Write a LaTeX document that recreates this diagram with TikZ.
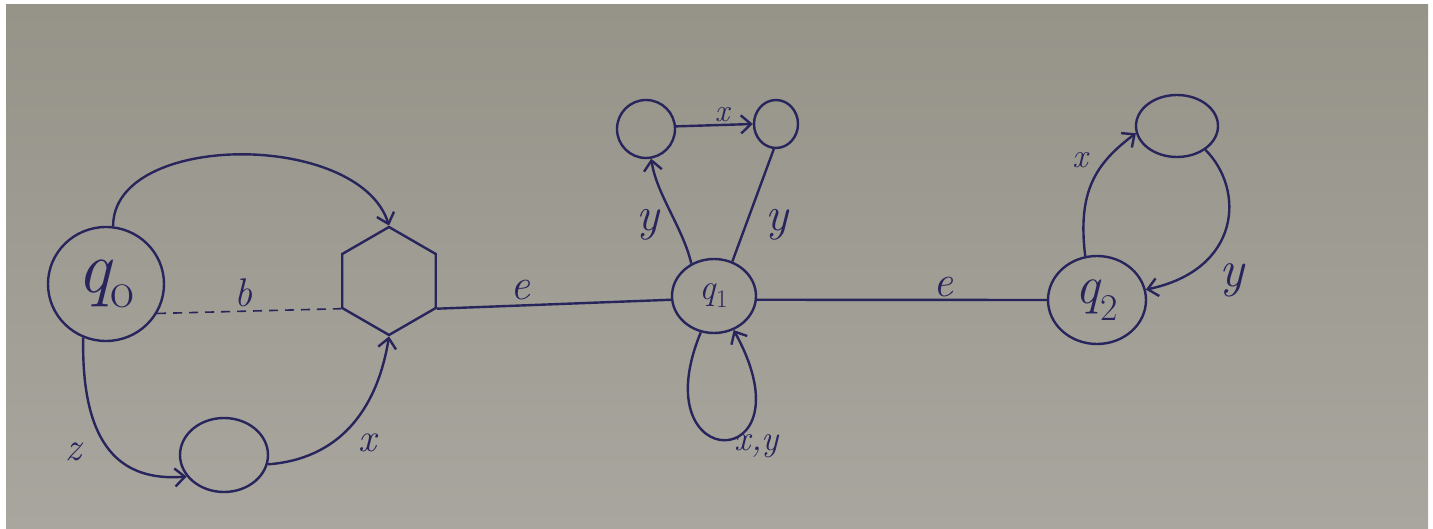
\documentclass[tikz,border=0pt]{standalone}
\usetikzlibrary{shapes.geometric,arrows.meta}
\definecolor{paper}{RGB}{150,147,137}
\definecolor{paperb}{RGB}{168,166,158}
\definecolor{ink}{RGB}{40,36,92}
\begin{document}
\begin{tikzpicture}[x=1pt,y=1pt,line width=2.4pt,
  state/.style={draw=ink,ellipse,inner sep=0pt,line width=2.4pt,text=ink},
  edge/.style={draw=ink,line width=2.4pt},
  arr/.style={edge,-{Straight Barb[length=10pt,width=18pt]}},
  lab/.style={text=ink,inner sep=0pt},
  fs/.style={font=\fontsize{#1}{#1}\selectfont\itshape}]
\fill[white] (0,0) rectangle (1433,-529);
\shade[top color=paper,bottom color=paperb] (6,-5) rectangle (1428,-529);
\useasboundingbox (0,0) rectangle (1433,-529);
% nodes
\node[state,minimum width=116,minimum height=114,fs=74] (q0) at (106,-284) {q\textsubscript{\upshape o}};
\node[state,minimum width=88,minimum height=74] (s) at (224,-455) {};
\node[draw=ink,regular polygon,regular polygon sides=6,regular polygon rotate=30,minimum size=108,inner sep=0pt] (hex) at (389,-281) {};
\node[state,minimum width=84,minimum height=74,fs=36] (q1) at (714,-296) {q\textsubscript{\upshape 1}};
\node[state,minimum width=58,minimum height=58] (tl) at (646,-129) {};
\node[state,minimum width=44,minimum height=48] (tr) at (776,-124) {};
\node[state,minimum width=98,minimum height=88,fs=54] (q2) at (1097,-300) {q\textsubscript{\upshape 2}};
\node[state,minimum width=82,minimum height=62] (t2) at (1177,-126) {};
% edges
\draw[arr] (q0.83) .. controls +(0,95) and +(-30,95) .. (hex.90);
\draw[edge,dashed,dash pattern=on 9pt off 7pt,line width=1.6pt] (q0.-30) -- (hex.-150);
\draw[arr] (q0.-113) .. controls +(-2,-110) and +(-65,-5) .. (s.-150);
\draw[arr] (s.-12) .. controls +(70,5) and +(-12,-75) .. (hex.-90);
\draw[edge] (hex.-30) -- (q1.185);
\draw[arr] (q1.125) .. controls +(-8,35) and +(5,-35) .. (tl.-80);
\draw[edge] (q1.62) -- (tr.-95);
\draw[arr] (tl.5) -- (tr.180);
\draw[arr] (q1.-110) .. controls +(-60,-145) and +(80,-145) .. (q1.-60);
\draw[edge] (q1.-5) -- (q2.180);
\draw[arr] (q2.105) .. controls +(-8,65) and +(-40,-30) .. (t2.190);
\draw[arr] (t2.-40) .. controls +(40,-40) and +(95,20) .. (q2.12);
% labels
\node[lab,fs=40] (lb) at (243,-293) {b};
\node[lab,fs=40] (lz) at (73,-452) {z};
\node[lab,fs=40] (lx1) at (367,-443) {x};
\node[lab,fs=44] (le1) at (520,-290) {e};
\node[lab,fs=32] (lx2) at (722,-115) {x};
\node[lab,fs=48] (ly1) at (648,-225) {y};
\node[lab,fs=48] (ly2) at (777,-225) {y};
\node[lab,fs=36] (lxy) at (757,-446) {x,y};
\node[lab,fs=44] (le2) at (943,-287) {e};
\node[lab,fs=34] (lx3) at (1080,-160) {x};
\node[lab,fs=52] (ly3) at (1232,-280) {y};
\end{tikzpicture}
\end{document}
